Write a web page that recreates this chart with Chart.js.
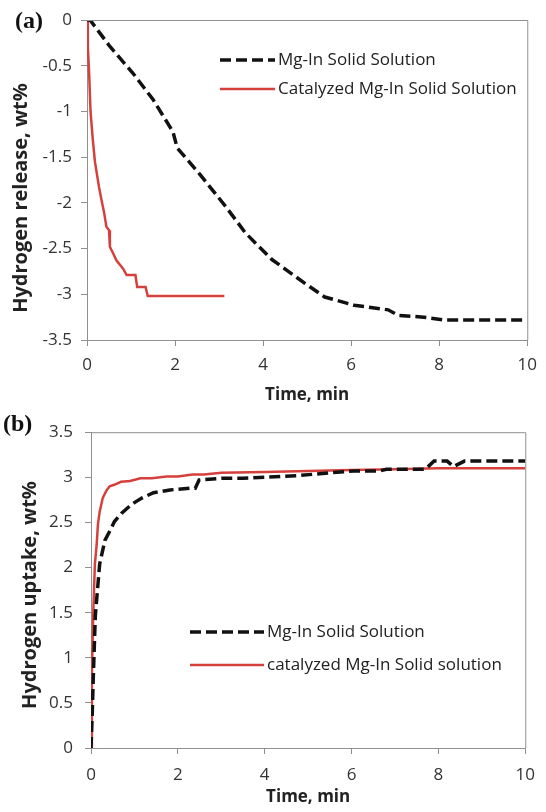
<!DOCTYPE html>
<html lang="en">
<head>
  <meta charset="UTF-8">
  <title>Hydrogen release / uptake</title>
  <script src="https://cdn.jsdelivr.net/npm/chart.js"></script>
  <style>
    body {
      margin: 0;
      background: #fff;
      width: 546px;
      height: 812px;
      overflow: hidden;
    }
    canvas {
      display: block;
    }
  </style>
</head>
<body>
  <canvas id="release" width="546" height="410"></canvas>
  <canvas id="uptake" width="546" height="402"></canvas>

  <script>
    // (a) hydrogen release, wt% vs time, min
    const relMgTime = [0, 0.07, 0.52, 1.04, 1.5, 1.95, 2.05, 2.55, 3.15, 3.6, 4.2, 4.95, 5.4, 6.07, 6.84, 7.07, 7.65, 8.1, 10];
    const relMgVal  = [0, 0, -0.29, -0.58, -0.87, -1.22, -1.4, -1.68, -2.04, -2.33, -2.62, -2.88, -3.03, -3.12, -3.17, -3.23, -3.25, -3.28, -3.28];

    const relCatTime = [0, 0.02, 0.05, 0.08, 0.13, 0.18, 0.27, 0.33, 0.39, 0.44, 0.5, 0.52, 0.6, 0.67, 0.82, 0.9, 1.1, 1.14, 1.33, 1.38, 3.12];
    const relCatVal  = [0, -0.3, -0.6, -1.0, -1.3, -1.55, -1.82, -1.97, -2.11, -2.26, -2.3, -2.48, -2.56, -2.63, -2.72, -2.79, -2.79, -2.92, -2.92, -3.02, -3.02];

    // (b) hydrogen uptake, wt% vs time, min
    const upMgTime = [0, 0.03, 0.05, 0.1, 0.2, 0.32, 0.45, 0.54, 0.7, 0.84, 1.0, 1.17, 1.44, 1.82, 2.27, 2.4, 2.49, 3.02, 3.5, 4.0, 4.8, 5.5, 6.05, 6.65, 6.8, 7.7, 7.9, 8.2, 8.35, 8.6, 10];
    const upMgVal  = [0, 0.4, 0.74, 1.47, 2.04, 2.3, 2.42, 2.51, 2.6, 2.66, 2.72, 2.77, 2.83, 2.86, 2.88, 2.88, 2.97, 2.99, 2.99, 3.0, 3.02, 3.05, 3.07, 3.07, 3.09, 3.09, 3.18, 3.18, 3.12, 3.18, 3.18];

    const upCatTime = [0, 0.02, 0.05, 0.09, 0.13, 0.16, 0.2, 0.27, 0.35, 0.43, 0.55, 0.69, 0.9, 1.14, 1.4, 1.74, 2.0, 2.34, 2.6, 3.0, 4.0, 5.0, 6.0, 7.0, 8.0, 10];
    const upCatVal  = [0, 0.8, 1.47, 2.04, 2.25, 2.48, 2.62, 2.77, 2.85, 2.9, 2.92, 2.95, 2.96, 2.99, 2.99, 3.01, 3.01, 3.03, 3.03, 3.05, 3.06, 3.07, 3.08, 3.09, 3.1, 3.1];

    const timeTicks = [0, 2, 4, 6, 8, 10];

    const FONT = "'Open Sans', sans-serif";
    const AXIS = '#8f8f8f';
    const RED = '#d6403c';

    const pts = (xs, ys) => xs.map((x, i) => ({ x: x, y: ys[i] }));

    // frame, panel letter, y title and in-plot legend
    const panelPlugin = {
      id: 'panel',
      afterDraw(chart, args, opts) {
        const ctx = chart.ctx;
        const a = chart.chartArea;
        ctx.save();
        ctx.strokeStyle = AXIS;
        ctx.lineWidth = 1;
        ctx.beginPath();
        ctx.moveTo(a.left, a.top + 0.5);
        ctx.lineTo(a.right + 0.5, a.top + 0.5);
        ctx.lineTo(a.right + 0.5, a.bottom);
        ctx.stroke();

        ctx.fillStyle = '#111';
        ctx.font = "bold 24px 'Liberation Serif', serif";
        ctx.textBaseline = 'middle';
        ctx.textAlign = 'left';
        ctx.fillText(opts.letter, opts.letterX, opts.letterY);

        ctx.save();
        ctx.translate(opts.titleX, opts.titleY);
        ctx.rotate(-Math.PI / 2);
        ctx.textAlign = 'center';
        ctx.fillStyle = '#222';
        ctx.font = 'bold 20px ' + FONT;
        ctx.fillText(opts.title, 0, 0);
        ctx.restore();

        ctx.font = '17px ' + FONT;
        chart.data.datasets.forEach((ds, i) => {
          const y = opts.legendY + i * opts.legendGap;
          ctx.strokeStyle = ds.borderColor;
          ctx.lineWidth = ds.borderWidth;
          ctx.setLineDash(ds.borderDash || []);
          ctx.beginPath();
          ctx.moveTo(opts.legendX, y);
          ctx.lineTo(opts.legendX + opts.sample, y);
          ctx.stroke();
          ctx.setLineDash([]);
          ctx.fillStyle = '#222';
          ctx.fillText(ds.label, opts.legendX + opts.sample + 3, y);
        });
        ctx.restore();
      }
    };

    function makeChart(id, cfg) {
      return new Chart(document.getElementById(id), {
        type: 'line',
        data: {
          datasets: [
            {
              label: 'Mg-In Solid Solution',
              data: cfg.mg,
              borderColor: '#111',
              borderWidth: 3.5,
              borderDash: [11, 5],
              pointRadius: 0,
              tension: 0
            },
            {
              label: cfg.catLabel,
              data: cfg.cat,
              borderColor: RED,
              borderWidth: 2.5,
              pointRadius: 0,
              tension: 0
            }
          ]
        },
        options: {
          responsive: false,
          animation: false,
          layout: { padding: { left: 0, right: cfg.right, top: cfg.top, bottom: 0 } },
          plugins: {
            legend: { display: false },
            tooltip: { enabled: false },
            panel: cfg.panel
          },
          scales: {
            x: {
              type: 'linear',
              min: 0,
              max: 10,
              afterBuildTicks: s => { s.ticks = timeTicks.map(v => ({ value: v })); },
              afterFit: s => { s.height = cfg.xHeight; },
              grid: { drawOnChartArea: false, color: AXIS, tickLength: 6 },
              border: { color: AXIS },
              ticks: { color: '#333', font: { family: FONT, size: 17 }, padding: cfg.xPad },
              title: {
                display: true,
                text: 'Time, min',
                color: '#222',
                font: { family: FONT, size: 17, weight: 'bold' },
                padding: { top: 0, bottom: 5 }
              }
            },
            y: {
              min: cfg.yMin,
              max: cfg.yMax,
              afterBuildTicks: s => { s.ticks = cfg.yTicks.map(v => ({ value: v })); },
              afterFit: s => { s.width = cfg.yWidth; },
              grid: { drawOnChartArea: false, color: AXIS, tickLength: 6 },
              border: { color: AXIS },
              ticks: {
                color: '#333',
                font: { family: FONT, size: 17 },
                padding: cfg.yPad,
                callback: v => String(v)
              }
            }
          }
        },
        plugins: [panelPlugin]
      });
    }

    makeChart('release', {
      mg: pts(relMgTime, relMgVal),
      cat: pts(relCatTime, relCatVal),
      catLabel: 'Catalyzed Mg-In Solid Solution',
      yMin: -3.5, yMax: 0,
      yTicks: [0, -0.5, -1, -1.5, -2, -2.5, -3, -3.5],
      top: 20, right: 16, xHeight: 70, yWidth: 87,
      xPad: 9, yPad: 9,
      panel: {
        letter: '(a)', letterX: 15, letterY: 22,
        title: 'Hydrogen release, wt%', titleX: 21, titleY: 198,
        legendX: 220, legendY: 60, legendGap: 29, sample: 55
      }
    });

    makeChart('uptake', {
      mg: pts(upMgTime, upMgVal),
      cat: pts(upCatTime, upCatVal),
      catLabel: 'catalyzed Mg-In Solid solution',
      yMin: 0, yMax: 3.5,
      yTicks: [0, 0.5, 1, 1.5, 2, 2.5, 3, 3.5],
      top: 16, right: 11, xHeight: 64, yWidth: 91,
      xPad: 11, yPad: 12,
      panel: {
        letter: '(b)', letterX: 3, letterY: 15,
        title: 'Hydrogen uptake, wt%', titleX: 30, titleY: 185,
        legendX: 190, legendY: 222, legendGap: 33, sample: 74
      }
    });
  </script>
</body>
</html>
